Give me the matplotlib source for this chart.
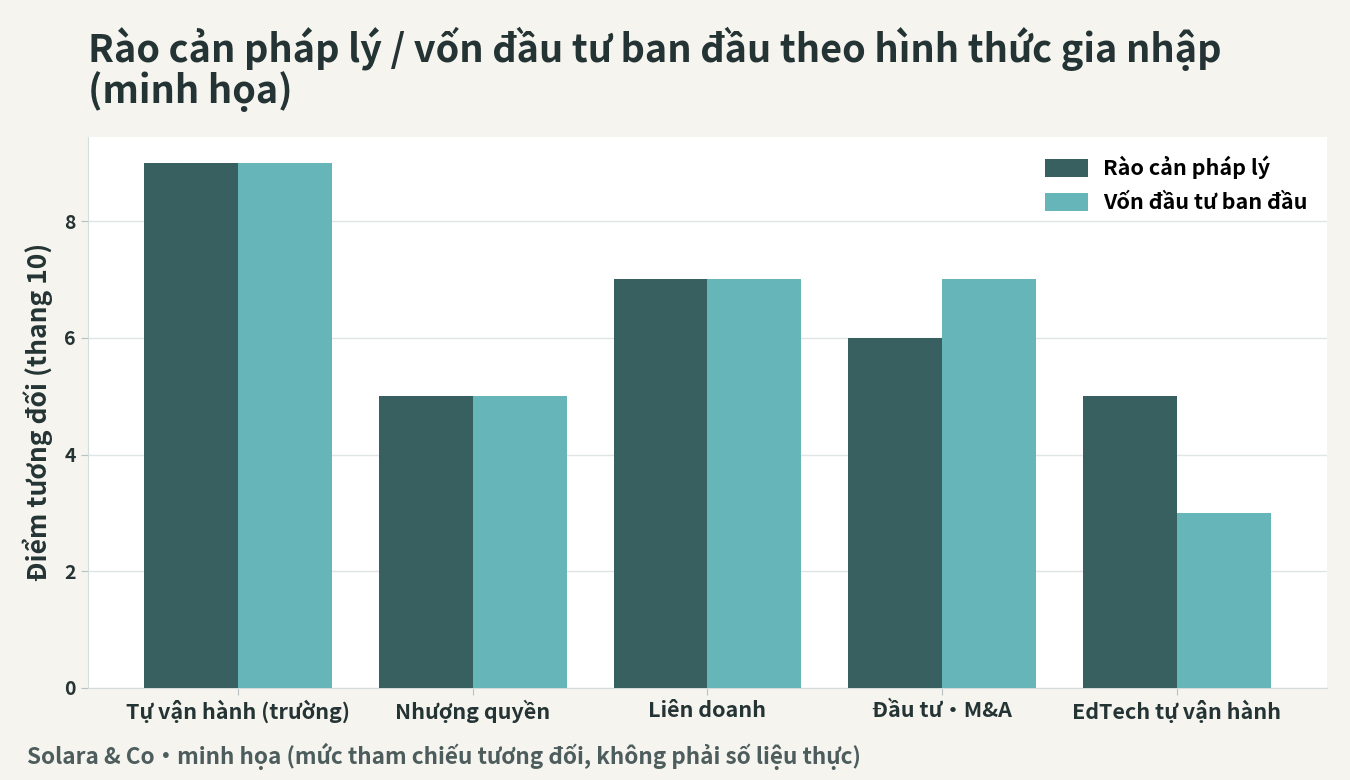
import matplotlib
matplotlib.use("Agg")
import matplotlib.pyplot as plt
import numpy as np

plt.rcParams['font.family'] = ['Noto Sans CJK JP', 'Noto Sans', 'DejaVu Sans']

categories = ['Tự vận hành (trường)', 'Nhượng quyền', 'Liên doanh', 'Đầu tư・M&A', 'EdTech tự vận hành']
rao_can = [9, 5, 7, 6, 5]
von_dau_tu = [9, 5, 7, 7, 3]

dark = '#386061'
light = '#66b5b9'
text_col = '#243333'

fig = plt.figure(figsize=(13.5, 7.8), dpi=100, facecolor='#f5f4ef')
ax = fig.add_axes([0.065, 0.118, 0.918, 0.707])
ax.set_facecolor('white')

x = np.arange(len(categories))
w = 0.4
ax.bar(x - w / 2, rao_can, w, color=dark, label='Rào cản pháp lý', zorder=3)
ax.bar(x + w / 2, von_dau_tu, w, color=light, label='Vốn đầu tư ban đầu', zorder=3)

ax.set_ylim(0, 9.45)
ax.set_yticks([0, 2, 4, 6, 8])
ax.set_xticks(x)
ax.set_xticklabels(categories, fontsize=15.5, fontweight='bold', color=text_col)
ax.tick_params(axis='y', labelsize=14, labelcolor=text_col, color='#b8c2c2', length=5)
ax.tick_params(axis='x', color='#b8c2c2', length=5)
for lab in ax.get_yticklabels():
    lab.set_fontweight('bold')
ax.grid(axis='y', color='#dfe5e5', linewidth=1, zorder=0)
for s in ['top', 'right']:
    ax.spines[s].set_visible(False)
for s in ['left', 'bottom']:
    ax.spines[s].set_color('#d4dcdc')

ax.set_ylabel('Điểm tương đối (thang 10)', fontsize=19, fontweight='bold', color=text_col, labelpad=8)

leg = ax.legend(loc='upper right', frameon=False, handlelength=2.0, handleheight=0.9,
                handletextpad=0.7, labelspacing=0.6, prop={'weight': 'bold', 'size': 15.5})

fig.text(0.065, 0.965, 'Rào cản pháp lý / vốn đầu tư ban đầu theo hình thức gia nhập\n(minh họa)',
         fontsize=27.3, fontweight='bold', color=text_col, va='top', ha='left', linespacing=1.0)
fig.text(0.02, 0.03, 'Solara & Co・minh họa (mức tham chiếu tương đối, không phải số liệu thực)',
         fontsize=16.2, fontweight='bold', color='#4d5c5c', ha='left', va='center')

fig.savefig('out.png', dpi=100, facecolor=fig.get_facecolor())
